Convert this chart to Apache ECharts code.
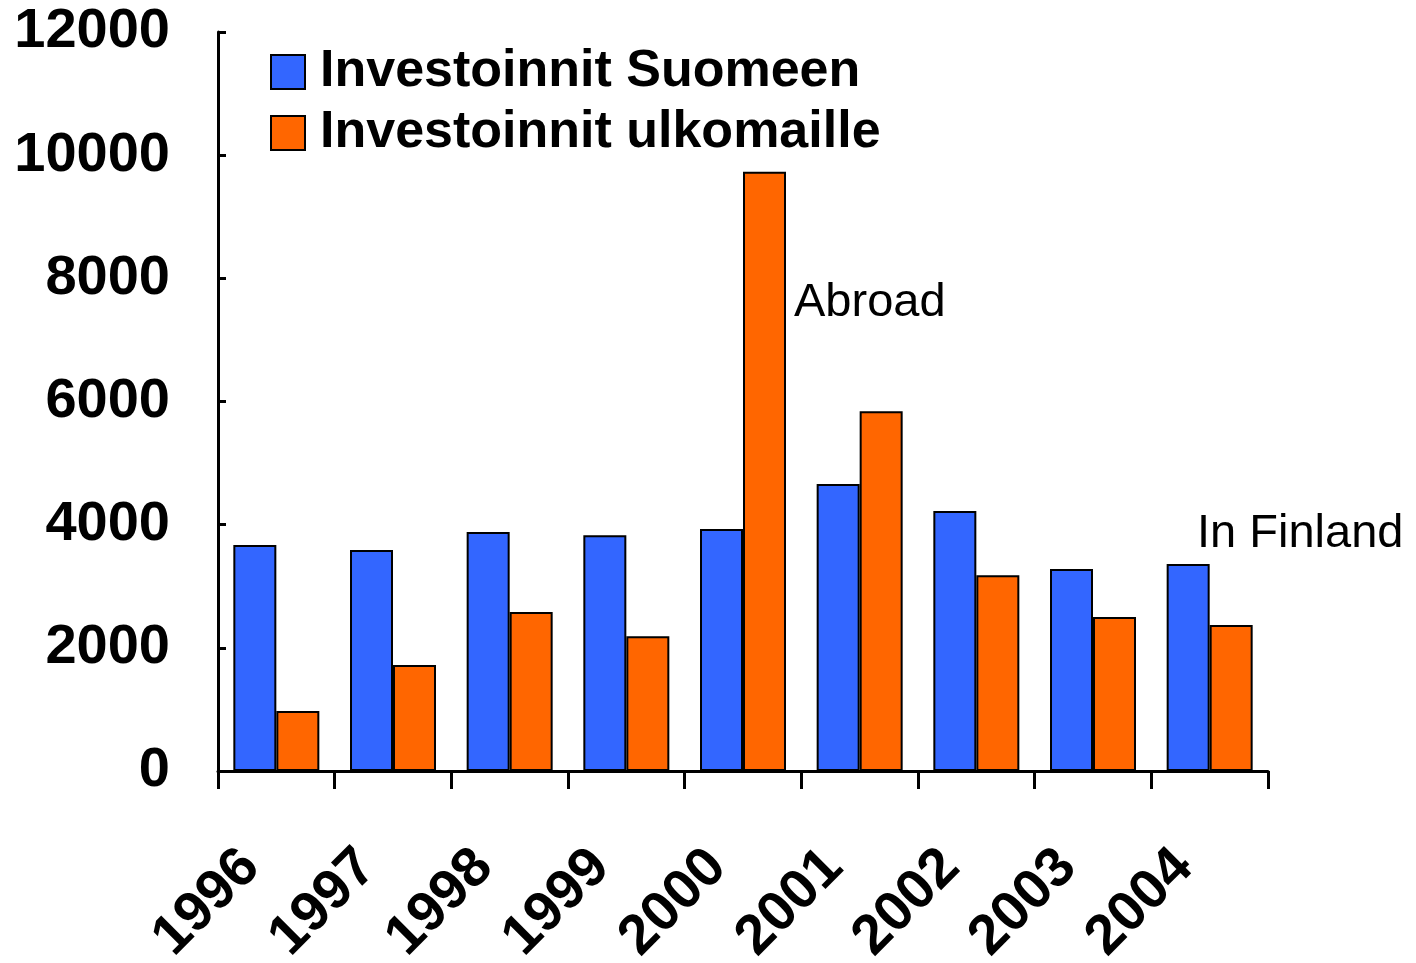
<!DOCTYPE html>
<html>
<head>
<meta charset="utf-8">
<script src="https://cdn.jsdelivr.net/npm/echarts@6/dist/echarts.min.js"></script>
<style>
  html, body { margin: 0; padding: 0; background: #fff; }
  #chart { width: 1416px; height: 963px; }
</style>
</head>
<body>
<div id="chart"></div>
<script>
// data
var years = ['1996', '1997', '1998', '1999', '2000', '2001', '2002', '2003', '2004'];
var suomeen = [3670, 3590, 3880, 3830, 3930, 4660, 4220, 3280, 3360];
var ulkomaille = [975, 1720, 2580, 2190, 9730, 5840, 3180, 2500, 2370];
var seriesNames = ['Investoinnit Suomeen', 'Investoinnit ulkomaille'];
var yTicks = { min: 0, max: 12000, interval: 2000 };

var myChart = echarts.init(document.getElementById('chart'));

var fontFam = 'Liberation Sans, Arial, sans-serif';

var option = {
  backgroundColor: '#fff',
  animation: false,
  grid: {
    left: 218,
    right: 148,
    top: 32,
    bottom: 192,
    containLabel: false,
    outerBoundsMode: 'none'
  },
  legend: {
    orient: 'vertical',
    left: 265,
    top: 41,
    itemWidth: 34,
    itemHeight: 34,
    itemGap: 9,
    icon: 'rect',
    textStyle: {
      fontFamily: fontFam,
      fontWeight: 'bold',
      fontSize: 52,
      color: '#000',
      padding: [0, 0, 0, 10]
    },
    data: seriesNames
  },
  xAxis: {
    type: 'category',
    data: years,
    axisLine: { lineStyle: { color: '#000', width: 3 } },
    axisTick: { show: true, interval: 0, alignWithLabel: false, length: 18, lineStyle: { color: '#000', width: 3 } },
    axisLabel: {
      interval: 0,
      rotate: 45,
      margin: 62,
      padding: [0, 36, 0, 0],
      fontFamily: fontFam,
      fontWeight: 'bold',
      fontSize: 56,
      color: '#000'
    }
  },
  yAxis: {
    type: 'value',
    min: yTicks.min,
    max: yTicks.max,
    interval: yTicks.interval,
    splitLine: { show: false },
    axisLine: { show: true, lineStyle: { color: '#000', width: 3 } },
    axisTick: { show: true, inside: true, length: 8, lineStyle: { color: '#000', width: 3 } },
    axisLabel: {
      margin: 48,
      formatter: function (v) { return String(v); },
      fontFamily: fontFam,
      fontWeight: 'bold',
      fontSize: 56,
      color: '#000'
    }
  },
  series: [
    {
      name: seriesNames[0],
      type: 'bar',
      data: suomeen,
      barWidth: 43,
      barGap: '0%',
      itemStyle: { color: '#3366FF', borderColor: '#000', borderWidth: 2 }
    },
    {
      name: seriesNames[1],
      type: 'bar',
      data: ulkomaille,
      barWidth: 43,
      barGap: '0%',
      itemStyle: { color: '#FF6600', borderColor: '#000', borderWidth: 2 }
    }
  ],
  graphic: [
    {
      type: 'text',
      left: 794,
      top: 280,
      style: { text: 'Abroad', fontFamily: fontFam, fontSize: 47, fill: '#000' }
    },
    {
      type: 'text',
      left: 1197,
      top: 511,
      style: { text: 'In Finland', fontFamily: fontFam, fontSize: 47, fill: '#000' }
    }
  ]
};

myChart.setOption(option);

window.addEventListener('resize', function () {
  myChart.resize();
});
</script>
</body>
</html>
